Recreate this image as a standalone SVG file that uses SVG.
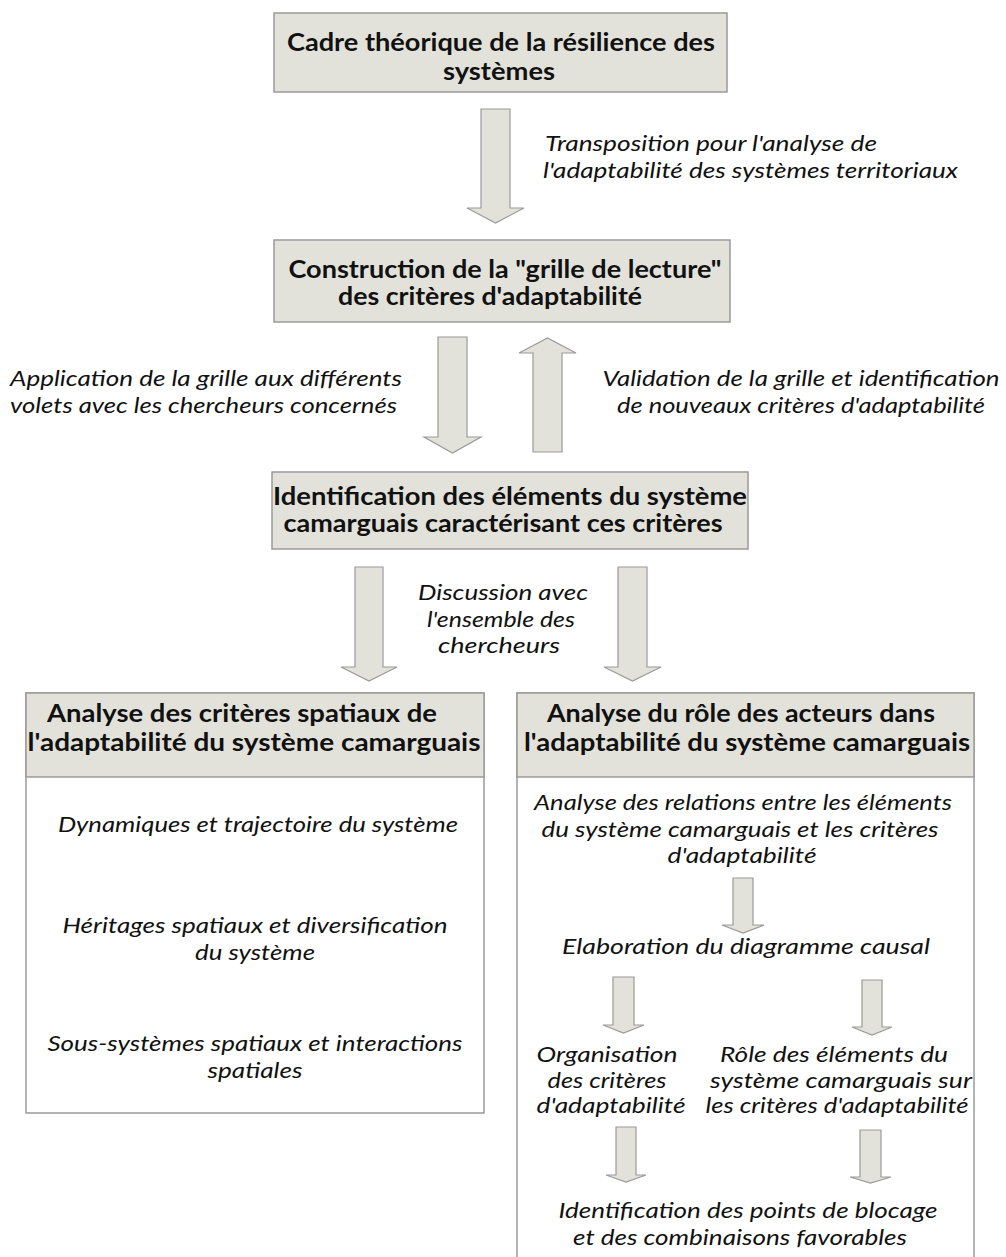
<svg xmlns="http://www.w3.org/2000/svg" width="1006" height="1257" viewBox="0 0 1006 1257">
<style>
.box{fill:#e2e2da;stroke:#9a9a9a;stroke-width:1.5}
.wbox{fill:#ffffff;stroke:#9a9a9a;stroke-width:1.5}
.arr{fill:#e2e2da;stroke:#9a9a9a;stroke-width:1.2;stroke-linejoin:miter}
.b{font-family:Lato,"Liberation Sans",sans-serif;font-weight:bold;font-size:24px;fill:#111;text-anchor:middle}
.i{font-family:Lato,"Liberation Sans",sans-serif;font-style:italic;font-size:22px;fill:#111}
.m{text-anchor:middle}
</style>
<rect width="1006" height="1257" fill="#ffffff"/>
<g id="node-cadre">
<rect class="box" x="274" y="13" width="453" height="79"/>
<text class="b" x="501" y="51" textLength="428" lengthAdjust="spacingAndGlyphs">Cadre théorique de la résilience des</text>
<text class="b" x="499" y="80" textLength="112" lengthAdjust="spacingAndGlyphs">systèmes</text>
</g>
<g id="node-construction">
<rect class="box" x="274" y="240" width="456" height="82"/>
<text class="b" x="505" y="278" textLength="433" lengthAdjust="spacingAndGlyphs">Construction de la "grille de lecture"</text>
<text class="b" x="490" y="305" textLength="304" lengthAdjust="spacingAndGlyphs">des critères d'adaptabilité</text>
</g>
<g id="node-identification">
<rect class="box" x="272" y="472" width="476" height="77"/>
<text class="b" x="510" y="505" textLength="474" lengthAdjust="spacingAndGlyphs">Identification des éléments du système</text>
<text class="b" x="503" y="532" textLength="439" lengthAdjust="spacingAndGlyphs">camarguais caractérisant ces critères</text>
</g>
<g id="node-spatiaux">
<rect class="wbox" x="26" y="693" width="458" height="420"/>
<rect class="box" x="26" y="693" width="458" height="84"/>
<text class="b" x="242" y="722" textLength="390" lengthAdjust="spacingAndGlyphs">Analyse des critères spatiaux de</text>
<text class="b" x="254" y="751" textLength="453" lengthAdjust="spacingAndGlyphs">l'adaptabilité du système camarguais</text>
<text class="i m" x="258" y="832" textLength="400" lengthAdjust="spacingAndGlyphs">Dynamiques et trajectoire du système</text>
<text class="i m" x="255" y="933" textLength="385" lengthAdjust="spacingAndGlyphs">Héritages spatiaux et diversification</text>
<text class="i m" x="255" y="960" textLength="120" lengthAdjust="spacingAndGlyphs">du système</text>
<text class="i m" x="255" y="1051" textLength="415" lengthAdjust="spacingAndGlyphs">Sous-systèmes spatiaux et interactions</text>
<text class="i m" x="255" y="1078" textLength="95" lengthAdjust="spacingAndGlyphs">spatiales</text>
</g>
<g id="node-acteurs">
<path d="M517 1260 V693 H974 V1260" fill="#ffffff" stroke="#9a9a9a" stroke-width="1.5"/>
<rect class="box" x="517" y="693" width="457" height="84"/>
<text class="b" x="741" y="722" textLength="388" lengthAdjust="spacingAndGlyphs">Analyse du rôle des acteurs dans</text>
<text class="b" x="747" y="751" textLength="446" lengthAdjust="spacingAndGlyphs">l'adaptabilité du système camarguais</text>
<text class="i m" x="743" y="810" textLength="418" lengthAdjust="spacingAndGlyphs">Analyse des relations entre les éléments</text>
<text class="i m" x="740" y="837" textLength="397" lengthAdjust="spacingAndGlyphs">du système camarguais et les critères</text>
<text class="i m" x="742" y="863" textLength="149" lengthAdjust="spacingAndGlyphs">d'adaptabilité</text>
<text class="i m" x="746" y="954" textLength="368" lengthAdjust="spacingAndGlyphs">Elaboration du diagramme causal</text>
<text class="i m" x="607" y="1062" textLength="141" lengthAdjust="spacingAndGlyphs">Organisation</text>
<text class="i m" x="607" y="1088" textLength="119" lengthAdjust="spacingAndGlyphs">des critères</text>
<text class="i m" x="611" y="1113" textLength="149" lengthAdjust="spacingAndGlyphs">d'adaptabilité</text>
<text class="i m" x="834" y="1062" textLength="228" lengthAdjust="spacingAndGlyphs">Rôle des éléments du</text>
<text class="i m" x="841" y="1088" textLength="262" lengthAdjust="spacingAndGlyphs">système camarguais sur</text>
<text class="i m" x="837" y="1113" textLength="263" lengthAdjust="spacingAndGlyphs">les critères d'adaptabilité</text>
<text class="i m" x="748" y="1218" textLength="379" lengthAdjust="spacingAndGlyphs">Identification des points de blocage</text>
<text class="i m" x="740" y="1245" textLength="334" lengthAdjust="spacingAndGlyphs">et des combinaisons favorables</text>
</g>
<g id="connectors">
<path class="arr" d="M481 109 H510 V208 H524 L495.5 223 L467 208 H481 Z"/>
<path class="arr" d="M438 337 H467 V437 H481 L452.5 453 L424 437 H438 Z"/>
<path class="arr" d="M533 452 H562 V353 H576 L547.5 338 L519 353 H533 Z"/>
<path class="arr" d="M355 567 H383 V667 H397 L369 681 L341 667 H355 Z"/>
<path class="arr" d="M618 567 H647 V667 H661 L632.5 681 L604 667 H618 Z"/>
<path class="arr" d="M733 878 H753 V925 H764 L743 933 L722 925 H733 Z"/>
<path class="arr" d="M613 977 H634 V1025 H644 L623.5 1033 L603 1025 H613 Z"/>
<path class="arr" d="M862 980 H882 V1027 H892 L872 1035 L852 1027 H862 Z"/>
<path class="arr" d="M616 1127 H636 V1175 H646 L626 1182 L606 1175 H616 Z"/>
<path class="arr" d="M860 1130 H881 V1177 H891 L870.5 1183 L850 1177 H860 Z"/>
<text class="i" x="545" y="151" textLength="332" lengthAdjust="spacingAndGlyphs">Transposition pour l'analyse de</text>
<text class="i" x="543" y="178" textLength="415" lengthAdjust="spacingAndGlyphs">l'adaptabilité des systèmes territoriaux</text>
<text class="i" x="10" y="386" textLength="392" lengthAdjust="spacingAndGlyphs">Application de la grille aux différents</text>
<text class="i" x="10" y="413" textLength="387" lengthAdjust="spacingAndGlyphs">volets avec les chercheurs concernés</text>
<text class="i m" x="801" y="386" textLength="397" lengthAdjust="spacingAndGlyphs">Validation de la grille et identification</text>
<text class="i m" x="801" y="413" textLength="368" lengthAdjust="spacingAndGlyphs">de nouveaux critères d'adaptabilité</text>
<text class="i m" x="503" y="600" textLength="170" lengthAdjust="spacingAndGlyphs">Discussion avec</text>
<text class="i m" x="501" y="627" textLength="148" lengthAdjust="spacingAndGlyphs">l'ensemble des</text>
<text class="i m" x="499" y="653" textLength="122" lengthAdjust="spacingAndGlyphs">chercheurs</text>
</g>
</svg>
